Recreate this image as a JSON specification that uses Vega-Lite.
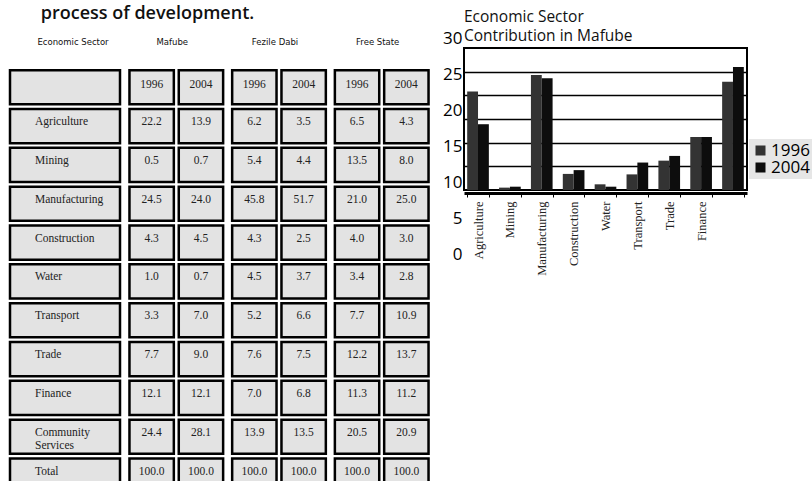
{
  "$schema": "https://vega.github.io/schema/vega-lite/v6.json",
  "background": "white",
  "padding": {"left": 8, "top": 5, "right": 0, "bottom": 0},
  "config": {"view": {"stroke": null}, "font": "Open Sans"},
  "datasets": {
    "table": [
      {"sector": "Agriculture", "region": "Mafube", "year": 1996, "value": 22.2},
      {"sector": "Agriculture", "region": "Mafube", "year": 2004, "value": 13.9},
      {"sector": "Agriculture", "region": "Fezile Dabi", "year": 1996, "value": 6.2},
      {"sector": "Agriculture", "region": "Fezile Dabi", "year": 2004, "value": 3.5},
      {"sector": "Agriculture", "region": "Free State", "year": 1996, "value": 6.5},
      {"sector": "Agriculture", "region": "Free State", "year": 2004, "value": 4.3},
      {"sector": "Mining", "region": "Mafube", "year": 1996, "value": 0.5},
      {"sector": "Mining", "region": "Mafube", "year": 2004, "value": 0.7},
      {"sector": "Mining", "region": "Fezile Dabi", "year": 1996, "value": 5.4},
      {"sector": "Mining", "region": "Fezile Dabi", "year": 2004, "value": 4.4},
      {"sector": "Mining", "region": "Free State", "year": 1996, "value": 13.5},
      {"sector": "Mining", "region": "Free State", "year": 2004, "value": 8.0},
      {"sector": "Manufacturing", "region": "Mafube", "year": 1996, "value": 24.5},
      {"sector": "Manufacturing", "region": "Mafube", "year": 2004, "value": 24.0},
      {"sector": "Manufacturing", "region": "Fezile Dabi", "year": 1996, "value": 45.8},
      {"sector": "Manufacturing", "region": "Fezile Dabi", "year": 2004, "value": 51.7},
      {"sector": "Manufacturing", "region": "Free State", "year": 1996, "value": 21.0},
      {"sector": "Manufacturing", "region": "Free State", "year": 2004, "value": 25.0},
      {"sector": "Construction", "region": "Mafube", "year": 1996, "value": 4.3},
      {"sector": "Construction", "region": "Mafube", "year": 2004, "value": 4.5},
      {"sector": "Construction", "region": "Fezile Dabi", "year": 1996, "value": 4.3},
      {"sector": "Construction", "region": "Fezile Dabi", "year": 2004, "value": 2.5},
      {"sector": "Construction", "region": "Free State", "year": 1996, "value": 4.0},
      {"sector": "Construction", "region": "Free State", "year": 2004, "value": 3.0},
      {"sector": "Water", "region": "Mafube", "year": 1996, "value": 1.0},
      {"sector": "Water", "region": "Mafube", "year": 2004, "value": 0.7},
      {"sector": "Water", "region": "Fezile Dabi", "year": 1996, "value": 4.5},
      {"sector": "Water", "region": "Fezile Dabi", "year": 2004, "value": 3.7},
      {"sector": "Water", "region": "Free State", "year": 1996, "value": 3.4},
      {"sector": "Water", "region": "Free State", "year": 2004, "value": 2.8},
      {"sector": "Transport", "region": "Mafube", "year": 1996, "value": 3.3},
      {"sector": "Transport", "region": "Mafube", "year": 2004, "value": 7.0},
      {"sector": "Transport", "region": "Fezile Dabi", "year": 1996, "value": 5.2},
      {"sector": "Transport", "region": "Fezile Dabi", "year": 2004, "value": 6.6},
      {"sector": "Transport", "region": "Free State", "year": 1996, "value": 7.7},
      {"sector": "Transport", "region": "Free State", "year": 2004, "value": 10.9},
      {"sector": "Trade", "region": "Mafube", "year": 1996, "value": 7.7},
      {"sector": "Trade", "region": "Mafube", "year": 2004, "value": 9.0},
      {"sector": "Trade", "region": "Fezile Dabi", "year": 1996, "value": 7.6},
      {"sector": "Trade", "region": "Fezile Dabi", "year": 2004, "value": 7.5},
      {"sector": "Trade", "region": "Free State", "year": 1996, "value": 12.2},
      {"sector": "Trade", "region": "Free State", "year": 2004, "value": 13.7},
      {"sector": "Finance", "region": "Mafube", "year": 1996, "value": 12.1},
      {"sector": "Finance", "region": "Mafube", "year": 2004, "value": 12.1},
      {"sector": "Finance", "region": "Fezile Dabi", "year": 1996, "value": 7.0},
      {"sector": "Finance", "region": "Fezile Dabi", "year": 2004, "value": 6.8},
      {"sector": "Finance", "region": "Free State", "year": 1996, "value": 11.3},
      {"sector": "Finance", "region": "Free State", "year": 2004, "value": 11.2},
      {"sector": "Community Services", "region": "Mafube", "year": 1996, "value": 24.4},
      {"sector": "Community Services", "region": "Mafube", "year": 2004, "value": 28.1},
      {"sector": "Community Services", "region": "Fezile Dabi", "year": 1996, "value": 13.9},
      {"sector": "Community Services", "region": "Fezile Dabi", "year": 2004, "value": 13.5},
      {"sector": "Community Services", "region": "Free State", "year": 1996, "value": 20.5},
      {"sector": "Community Services", "region": "Free State", "year": 2004, "value": 20.9},
      {"sector": "Total", "region": "Mafube", "year": 1996, "value": 100.0},
      {"sector": "Total", "region": "Mafube", "year": 2004, "value": 100.0},
      {"sector": "Total", "region": "Fezile Dabi", "year": 1996, "value": 100.0},
      {"sector": "Total", "region": "Fezile Dabi", "year": 2004, "value": 100.0},
      {"sector": "Total", "region": "Free State", "year": 1996, "value": 100.0},
      {"sector": "Total", "region": "Free State", "year": 2004, "value": 100.0}
    ],
    "chart": [
      {"sector": "Agriculture", "year": 1996, "value": 20.8},
      {"sector": "Agriculture", "year": 2004, "value": 13.9},
      {"sector": "Mining", "year": 1996, "value": 0.5},
      {"sector": "Mining", "year": 2004, "value": 0.7},
      {"sector": "Manufacturing", "year": 1996, "value": 24.3},
      {"sector": "Manufacturing", "year": 2004, "value": 23.6},
      {"sector": "Construction", "year": 1996, "value": 3.4},
      {"sector": "Construction", "year": 2004, "value": 4.2},
      {"sector": "Water", "year": 1996, "value": 1.2},
      {"sector": "Water", "year": 2004, "value": 0.7},
      {"sector": "Transport", "year": 1996, "value": 3.3},
      {"sector": "Transport", "year": 2004, "value": 5.8},
      {"sector": "Trade", "year": 1996, "value": 6.2},
      {"sector": "Trade", "year": 2004, "value": 7.2},
      {"sector": "Finance", "year": 1996, "value": 11.2},
      {"sector": "Finance", "year": 2004, "value": 11.2},
      {"sector": "Community Services", "year": 1996, "value": 22.9},
      {"sector": "Community Services", "year": 2004, "value": 26.0}
    ]
  },
  "spacing": 11,
  "resolve": {"scale": {"xOffset": "independent", "color": "independent"}},
  "hconcat": [
    {
      "title": {"text": "process of development.", "anchor": "start", "fontSize": 18, "font": "Open Sans", "fontWeight": 600, "color": "#111", "dx": 32, "offset": 6},
      "spacing": 5,
      "resolve": {"scale": {"xOffset": "independent"}},
      "hconcat": [
        {
          "width": 110,
          "height": 466,
          "data": {"name": "table"},
          "transform": [{"filter": "datum.region == 'Mafube' && datum.year == 1996"}],
          "encoding": {
            "y": {"field": "sector", "type": "nominal", "axis": null,
              "scale": {"domain": ["head", "year", "Agriculture", "Mining", "Manufacturing", "Construction", "Water", "Transport", "Trade", "Finance", "Community Services", "Total"], "paddingInner": 0.12, "paddingOuter": 0.06}}
          },
          "layer": [
            {"mark": {"type": "rect", "fill": "#e3e3e3", "stroke": "#000", "strokeWidth": 2.5}},
            {"data": {"values": [{"row": "year"}]},
             "mark": {"type": "rect", "fill": "#e3e3e3", "stroke": "#000", "strokeWidth": 2.5},
             "encoding": {"y": {"field": "row", "type": "nominal"}}},
            {"mark": {"type": "text", "align": "left", "dx": -30, "dy": -4, "font": "Liberation Serif", "fontSize": 11.5, "color": "#222", "lineBreak": " ", "lineHeight": 13},
             "encoding": {"text": {"field": "sector"},
               "fontWeight": {"condition": {"test": "datum.sector == 'Total'", "value": "bold"}, "value": "normal"}}},
            {"data": {"values": [{"row": "head", "label": "Economic Sector"}]},
             "mark": {"type": "text", "align": "center", "dx": 8, "dy": -6, "font": "DejaVu Sans", "fontSize": 8.5, "color": "#111"},
             "encoding": {"y": {"field": "row", "type": "nominal"}, "text": {"field": "label"}}}
          ]
        },
        {
          "width": 304,
          "height": 466,
          "data": {"name": "table"},
          "encoding": {
            "x": {"field": "region", "type": "nominal", "axis": null,
              "scale": {"domain": ["Mafube", "Fezile Dabi", "Free State"], "paddingInner": 0.04, "paddingOuter": 0}},
            "y": {"field": "sector", "type": "nominal", "axis": null,
              "scale": {"domain": ["head", "year", "Agriculture", "Mining", "Manufacturing", "Construction", "Water", "Transport", "Trade", "Finance", "Community Services", "Total"], "paddingInner": 0.12, "paddingOuter": 0.06}}
          },
          "layer": [
            {"mark": {"type": "rect", "fill": "#e3e3e3", "stroke": "#000", "strokeWidth": 2.5},
             "encoding": {"xOffset": {"field": "year", "type": "nominal", "scale": {"paddingInner": 0.1, "paddingOuter": 0.05}}}},
            {"mark": {"type": "text", "dy": -4, "font": "Liberation Serif", "fontSize": 11.5, "color": "#222"},
             "encoding": {"xOffset": {"field": "year", "type": "nominal"},
               "text": {"field": "value", "type": "quantitative", "format": ".1f"}}},
            {"transform": [{"filter": "datum.sector == 'Agriculture'"}],
             "mark": {"type": "rect", "fill": "#e3e3e3", "stroke": "#000", "strokeWidth": 2.5},
             "encoding": {"y": {"datum": "year"}, "xOffset": {"field": "year", "type": "nominal"}}},
            {"transform": [{"filter": "datum.sector == 'Agriculture'"}],
             "mark": {"type": "text", "dy": -2, "font": "Liberation Serif", "fontSize": 11.5, "color": "#222"},
             "encoding": {"y": {"datum": "year"}, "xOffset": {"field": "year", "type": "nominal"}, "text": {"field": "year", "type": "nominal"}}},
            {"transform": [{"filter": "datum.sector == 'Agriculture' && datum.year == 1996"}],
             "mark": {"type": "text", "dx": -4, "dy": -6, "font": "DejaVu Sans", "fontSize": 8.5, "color": "#111"},
             "encoding": {"y": {"datum": "head"}, "text": {"field": "region", "type": "nominal"}}}
          ]
        }
      ]
    },
    {
      "width": 283,
      "height": 230,
      "title": {"text": ["Economic Sector", "Contribution in Mafube"], "anchor": "start", "frame": "group", "fontSize": 15.5, "font": "Open Sans", "fontWeight": "normal", "color": "#111", "lineHeight": 19, "offset": -15},
      "data": {"name": "chart"},
      "layer": [
        {
          "layer": [
            {"data": {"values": [{"part": "frame"}]},
             "mark": {"type": "rect", "fill": "transparent", "stroke": "#000", "strokeWidth": 2},
             "encoding": {
               "y": {"datum": 0, "type": "quantitative",
                 "scale": {"domain": [-14.58, 34.02], "nice": false, "zero": false},
                 "axis": {"orient": "right", "values": [5, 10, 15, 20, 25], "labels": false, "ticks": false, "domain": false, "grid": true, "gridColor": "#000", "gridWidth": 1.6, "gridOpacity": 1, "title": null}},
               "y2": {"datum": 30}}},
            {"mark": {"type": "bar"},
             "encoding": {
               "x": {"field": "sector", "type": "nominal", "sort": ["Agriculture", "Mining", "Manufacturing", "Construction", "Water", "Transport", "Trade", "Finance", "Community Services"],
                 "scale": {"paddingInner": 0.32, "paddingOuter": 0.1},
                 "axis": {"title": null, "orient": "bottom", "offset": -66, "labelAngle": 270, "labelAlign": "right", "labelBaseline": "middle", "labelFont": "Liberation Serif", "labelFontSize": 12.5, "labelColor": "#222", "labelPadding": 4, "domainColor": "#000", "domainWidth": 3, "tickBand": "extent", "tickColor": "#000", "tickSize": 4, "labelExpr": "datum.value == 'Community Services' ? '' : datum.label"}},
               "xOffset": {"field": "year", "type": "nominal", "scale": {"paddingInner": 0}},
               "y": {"field": "value", "type": "quantitative"},
               "y2": {"datum": 0},
               "color": {"field": "year", "type": "nominal",
                 "scale": {"domain": [1996, 2004], "range": ["#333333", "#0d0d0d"]},
                 "legend": {"orient": "none", "legendX": 285, "legendY": 110, "title": null, "symbolType": "square", "symbolSize": 100, "labelFontSize": 17, "labelFont": "Open Sans", "labelColor": "#000", "fillColor": "#e6e6e6", "padding": 3, "rowPadding": -3, "labelOffset": 2, "symbolStrokeWidth": 0}}
             }}
          ]
        },
        {
          "data": {"values": [{"part": "labels"}]},
          "mark": {"type": "point", "opacity": 0},
          "encoding": {
            "y": {"datum": 0, "type": "quantitative",
              "scale": {"domain": [-0.69, 31.25], "nice": false, "zero": false},
              "axis": {"orient": "left", "values": [0, 5, 10, 15, 20, 25, 30], "labelFont": "Open Sans", "labelFontSize": 17, "labelColor": "#000", "ticks": false, "domain": false, "grid": false, "title": null, "labelPadding": 2}}
          }
        }
      ],
      "resolve": {"scale": {"y": "independent"}, "axis": {"y": "independent"}}
    }
  ]
}
